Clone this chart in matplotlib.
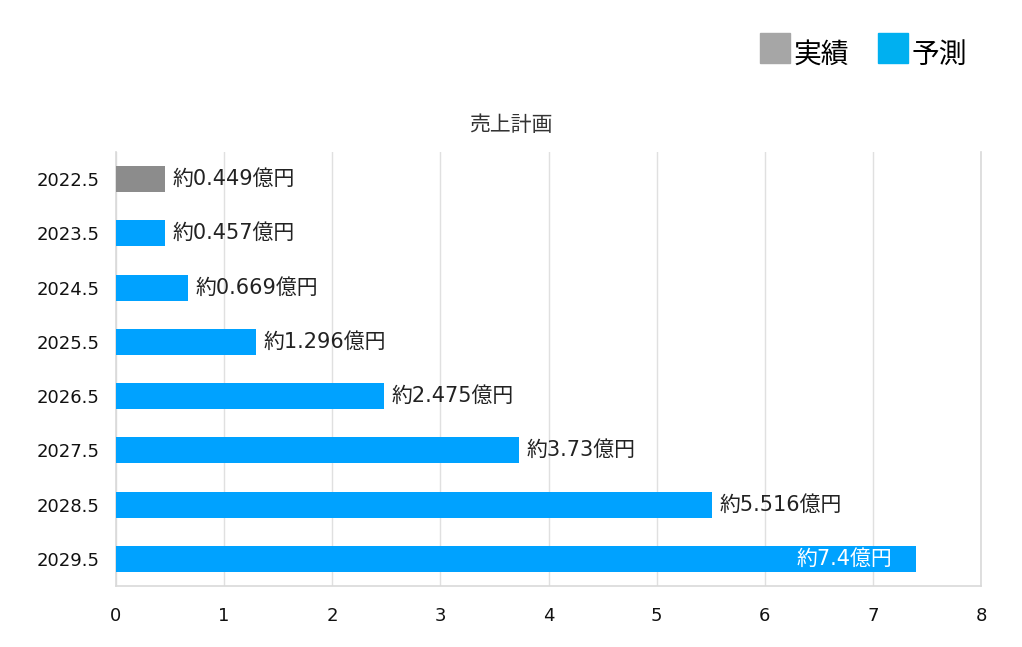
import matplotlib
matplotlib.use("Agg")
import matplotlib.pyplot as plt
from matplotlib.patches import Rectangle

# DejaVu para los números (más anchos), Noto CJK para los kanji
plt.rcParams['font.family'] = ['DejaVu Sans', 'Noto Sans CJK JP']

# datos del gráfico
periodos = ["2022.5", "2023.5", "2024.5", "2025.5", "2026.5", "2027.5", "2028.5", "2029.5"]
ventas = [0.449, 0.457, 0.669, 1.296, 2.475, 3.73, 5.516, 7.4]
etiquetas = ["約0.449億円", "約0.457億円", "約0.669億円", "約1.296億円",
             "約2.475億円", "約3.73億円", "約5.516億円", "約7.4億円"]
es_real = [True, False, False, False, False, False, False, False]
leyenda = ["実績", "予測"]

GRIS = "#8c8c8c"
AZUL = "#00a2ff"

fig = plt.figure(figsize=(10.22, 6.47), dpi=100)
ax = fig.add_axes([0.1135, 0.0943, 0.8464, 0.6707])

colores = [GRIS if r else AZUL for r in es_real]
pos = list(range(len(periodos)))
ax.barh(pos, ventas, height=0.48, color=colores, zorder=3)

ax.set_ylim(len(periodos) - 0.5, -0.5)
ax.set_xlim(0, 8)
ax.set_yticks(pos)
ax.set_yticklabels(periodos, fontsize=13, color="#111111")
ax.set_xticks(range(9))
ax.tick_params(axis="x", labelsize=13, colors="#111111", length=0, pad=15)
ax.tick_params(axis="y", length=0, pad=12)
ax.grid(axis="x", color="#e0e0e0", linewidth=1, zorder=0)

ax.spines["top"].set_visible(False)
for s in ["left", "bottom", "right"]:
    ax.spines[s].set_color("#d9d9d9")
    ax.spines[s].set_linewidth(1.2)

for i, (v, t) in enumerate(zip(ventas, etiquetas)):
    if v > 7:
        ax.text(v - 0.22, i, t, ha="right", va="center", fontsize=15, color="white", zorder=4)
    else:
        ax.text(v + 0.07, i, t, ha="left", va="center", fontsize=15, color="#222222", zorder=4)

fig.text(0.5, 1 - 125 / 647, "売上計画", fontsize=15, color="#333333", ha="center", va="center")

# leyenda manual arriba a la derecha
fig.patches.append(Rectangle((760 / 1022, 1 - 63 / 647), 30 / 1022, 30 / 647,
                             transform=fig.transFigure, color="#a6a6a6"))
fig.text(794 / 1022, 1 - 55 / 647, leyenda[0], fontsize=20, va="center", ha="left")
fig.patches.append(Rectangle((878 / 1022, 1 - 63 / 647), 30 / 1022, 30 / 647,
                             transform=fig.transFigure, color="#00b0f0"))
fig.text(912 / 1022, 1 - 55 / 647, leyenda[1], fontsize=20, va="center", ha="left")

fig.savefig("out.png", dpi=100)
